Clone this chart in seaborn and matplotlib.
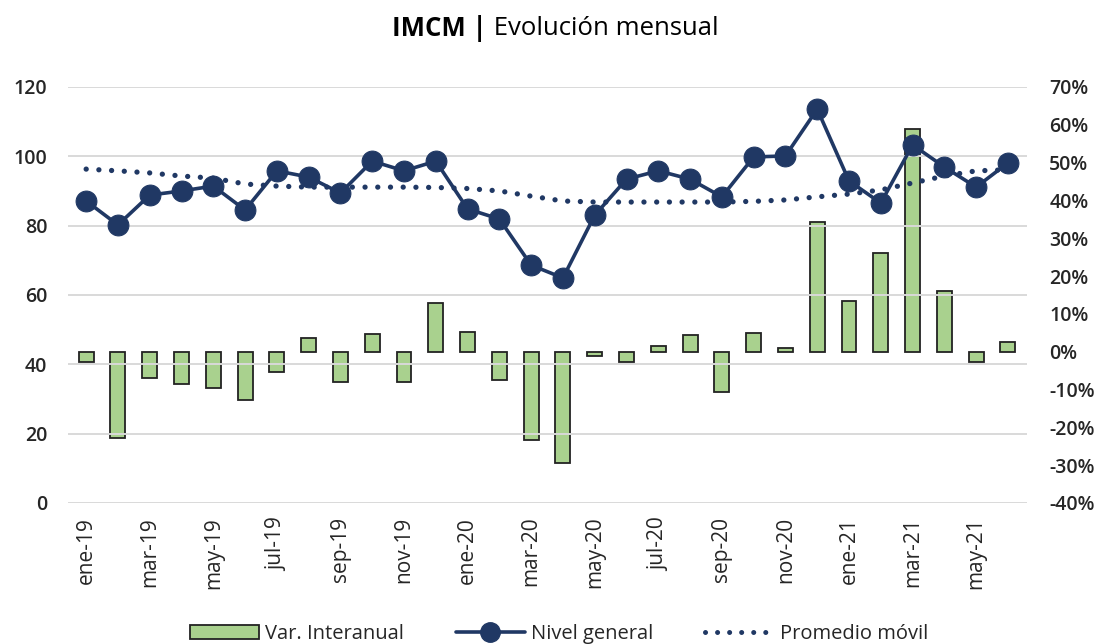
import numpy as np
import pandas as pd
import seaborn as sns
import matplotlib.pyplot as plt
from matplotlib.lines import Line2D
from matplotlib.patches import Patch

# --- datos ---
meses = ['ene-19', 'feb-19', 'mar-19', 'abr-19', 'may-19', 'jun-19',
         'jul-19', 'ago-19', 'sep-19', 'oct-19', 'nov-19', 'dic-19',
         'ene-20', 'feb-20', 'mar-20', 'abr-20', 'may-20', 'jun-20',
         'jul-20', 'ago-20', 'sep-20', 'oct-20', 'nov-20', 'dic-20',
         'ene-21', 'feb-21', 'mar-21', 'abr-21', 'may-21', 'jun-21']

nivel_general = [87.1, 80.2, 88.8, 90.0, 91.4, 84.5, 95.8, 94.0, 89.4, 98.6,
                 95.8, 98.6, 84.8, 81.9, 68.6, 64.9, 83.0, 93.4, 95.8, 93.4,
                 88.3, 99.8, 100.1, 113.6, 92.9, 86.5, 103.3, 96.9, 91.1, 98.1]

promedio_movil = [96.3, 95.8, 95.2, 94.3, 93.7, 92.0, 91.4, 91.1, 91.1, 91.1,
                  91.1, 91.0, 90.7, 90.0, 88.5, 87.1, 86.8, 86.8, 86.8, 86.8,
                  86.8, 87.0, 87.4, 88.3, 89.1, 90.3, 92.3, 94.3, 95.8, 96.1]

var_interanual = [-2.6, -22.7, -6.9, -8.5, -9.6, -12.8, -5.3, 3.7, -7.9, 4.8,
                  -7.9, 12.8, 5.3, -7.5, -23.4, -29.4, -1.1, -2.8, 1.6, 4.4,
                  -10.7, 4.9, 1.1, 34.4, 13.4, 26.0, 58.8, 16.1, -2.8, 2.6]

df = pd.DataFrame({'mes': meses, 'pos': np.arange(len(meses)),
                   'nivel': nivel_general, 'movil': promedio_movil,
                   'var': var_interanual})

azul = '#203864'
verde = '#A9D18E'
punteado = (0, (0.01, 2.4))

sns.set_style('white')
plt.rcParams['font.family'] = ['Open Sans', 'DejaVu Sans']

fig = plt.figure(figsize=(11.01, 6.44), dpi=100)
ax = fig.add_axes([0.0618, 0.219, 0.871, 0.646])
ax2 = ax.twinx()

# barras en el eje secundario
sns.barplot(data=df, x='pos', y='var', ax=ax2, color=verde, width=0.47,
            edgecolor='#222222', linewidth=1.3, saturation=1, native_scale=True)

# líneas en el eje principal
sns.lineplot(data=df, x='pos', y='movil', ax=ax, color=azul, linewidth=3.8,
             linestyle=punteado, dash_capstyle='round')
sns.lineplot(data=df, x='pos', y='nivel', ax=ax, color=azul, linewidth=2.6,
             marker='o', markersize=15, markeredgecolor=azul)

ax.set_zorder(ax2.get_zorder() + 1)
ax.patch.set_visible(False)

ax.set_ylim(0, 120)
ax.set_yticks(range(0, 121, 20))
ax2.set_ylim(-40, 70)
ax2.set_yticks(range(-40, 71, 10))
ax2.set_yticklabels([f'{t}%' for t in range(-40, 71, 10)])
ax.set_xlim(-0.57, 29.6)

ax.set_xticks(df['pos'][::2])
ax.set_xticklabels(df['mes'][::2], rotation=90, fontsize=15)

ax.yaxis.grid(True, color='#d9d9d9', linewidth=1.4)
ax.set_axisbelow(True)
for a in (ax, ax2):
    for s in a.spines.values():
        s.set_visible(False)
    a.set_xlabel('')
    a.set_ylabel('')
ax.tick_params(axis='y', length=0, pad=15, labelsize=14)
ax2.tick_params(axis='y', length=0, pad=16, labelsize=14)
ax.tick_params(axis='x', length=0, pad=10)
for lab in ax.get_yticklabels() + ax2.get_yticklabels():
    lab.set_fontweight('semibold')

# título
fig.text(0.442, 0.956, 'IMCM |', ha='right', va='center', fontsize=18.5,
         fontweight='bold', color='black')
fig.text(0.442, 0.956, ' Evolución mensual', ha='left', va='center',
         fontsize=18.5, color='black')

handles = [Patch(facecolor=verde, edgecolor='#222222', linewidth=1.3),
           Line2D([], [], color=azul, linewidth=2.6, marker='o', markersize=14),
           Line2D([], [], color=azul, linewidth=3.6, linestyle=punteado,
                  dash_capstyle='round')]
fig.legend(handles, ['Var. Interanual', 'Nivel general', 'Promedio móvil'],
           loc='center', bbox_to_anchor=(0.508, 0.016), ncol=3, frameon=False,
           fontsize=14.5, handlelength=3.4, columnspacing=2.6,
           handletextpad=0.3)

plt.savefig('out.png', dpi=100)
